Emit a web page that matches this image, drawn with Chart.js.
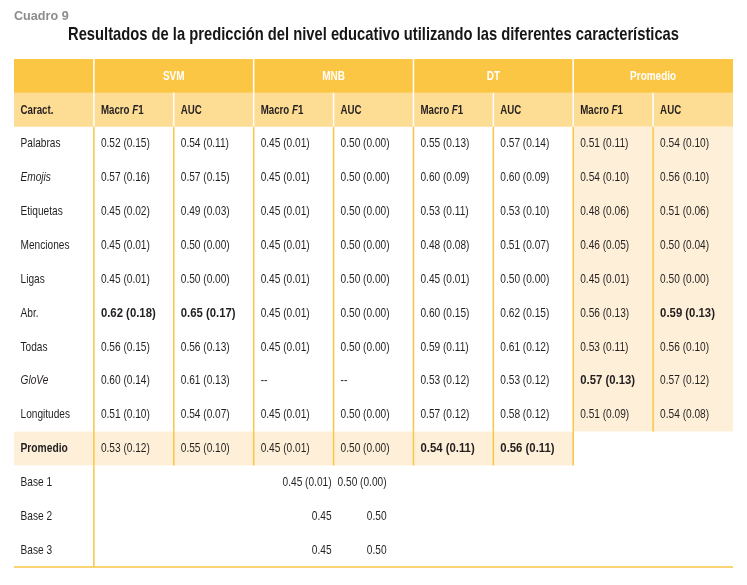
<!DOCTYPE html>
<html>
<head>
<meta charset="utf-8">
<script src="https://cdn.jsdelivr.net/npm/chart.js@4.4.1/dist/chart.umd.min.js"></script>
<style>
  html, body { margin: 0; padding: 0; background: #ffffff; }
  #wrap { width: 747px; height: 585px; }
</style>
</head>
<body>
<div id="wrap"><canvas id="c" width="747" height="585"></canvas></div>
<script>
// ---------------- data ----------------
const tableLabel = 'Cuadro 9';
const tableTitle = 'Resultados de la predicción del nivel educativo utilizando las diferentes características';
const firstHeader = 'Caract.';
const models = ['SVM', 'MNB', 'DT', 'Promedio'];
const metrics = ['Macro F1', 'AUC'];
const categories = ['Palabras', 'Emojis', 'Etiquetas', 'Menciones', 'Ligas', 'Abr.', 'Todas', 'GloVe', 'Longitudes', 'Promedio'];
const italicCategories = ['Emojis', 'GloVe'];
const baselines = ['Base 1', 'Base 2', 'Base 3'];

const svmF1     = [0.52, 0.57, 0.45, 0.45, 0.45, 0.62, 0.56, 0.60, 0.51, 0.53];
const svmF1Sd   = [0.15, 0.16, 0.02, 0.01, 0.01, 0.18, 0.15, 0.14, 0.10, 0.12];
const svmAuc    = [0.54, 0.57, 0.49, 0.50, 0.50, 0.65, 0.56, 0.61, 0.54, 0.55];
const svmAucSd  = [0.11, 0.15, 0.03, 0.00, 0.00, 0.17, 0.13, 0.13, 0.07, 0.10];
const mnbF1     = [0.45, 0.45, 0.45, 0.45, 0.45, 0.45, 0.45, null, 0.45, 0.45];
const mnbF1Sd   = [0.01, 0.01, 0.01, 0.01, 0.01, 0.01, 0.01, null, 0.01, 0.01];
const mnbAuc    = [0.50, 0.50, 0.50, 0.50, 0.50, 0.50, 0.50, null, 0.50, 0.50];
const mnbAucSd  = [0.00, 0.00, 0.00, 0.00, 0.00, 0.00, 0.00, null, 0.00, 0.00];
const dtF1      = [0.55, 0.60, 0.53, 0.48, 0.45, 0.60, 0.59, 0.53, 0.57, 0.54];
const dtF1Sd    = [0.13, 0.09, 0.11, 0.08, 0.01, 0.15, 0.11, 0.12, 0.12, 0.11];
const dtAuc     = [0.57, 0.60, 0.53, 0.51, 0.50, 0.62, 0.61, 0.53, 0.58, 0.56];
const dtAucSd   = [0.14, 0.09, 0.10, 0.07, 0.00, 0.15, 0.12, 0.12, 0.12, 0.11];
const promF1    = [0.51, 0.54, 0.48, 0.46, 0.45, 0.56, 0.53, 0.57, 0.51];
const promF1Sd  = [0.11, 0.10, 0.06, 0.05, 0.01, 0.13, 0.11, 0.13, 0.09];
const promAuc   = [0.54, 0.56, 0.51, 0.50, 0.50, 0.59, 0.56, 0.57, 0.54];
const promAucSd = [0.10, 0.10, 0.06, 0.04, 0.00, 0.13, 0.10, 0.12, 0.08];

const baseF1    = [0.45, 0.45, 0.45];
const baseF1Sd  = [0.01, null, null];
const baseAuc   = [0.50, 0.50, 0.50];
const baseAucSd = [0.00, null, null];

// bold cells: [row, column]
const boldCells = [[5, 1], [5, 2], [5, 8], [7, 7], [9, 5], [9, 6]];

// ---------------- build cells ----------------
const valueColumns = [
  [svmF1, svmF1Sd], [svmAuc, svmAucSd],
  [mnbF1, mnbF1Sd], [mnbAuc, mnbAucSd],
  [dtF1, dtF1Sd], [dtAuc, dtAucSd],
  [promF1, promF1Sd], [promAuc, promAucSd]
];
function fmt(v, sd) {
  if (v === null || v === undefined) return '--';
  return v.toFixed(2) + (sd === null || sd === undefined ? '' : ' (' + sd.toFixed(2) + ')');
}
const isBold = (r, c) => boldCells.some(b => b[0] === r && b[1] === c);

const cells = [];
models.forEach((m, g) => cells.push({ x: 1 + 2 * g + 1, y: -1.5, kind: 'group', text: m }));
cells.push({ x: 0, y: -0.5, kind: 'head', text: firstHeader });
models.forEach((m, g) => metrics.forEach((t, k) => cells.push({ x: 1 + 2 * g + k, y: -0.5, kind: 'head', text: t })));
categories.forEach((cat, r) => {
  cells.push({ x: 0, y: r + 0.5, kind: 'label', text: cat,
    italic: italicCategories.includes(cat), bold: cat === 'Promedio' });
  valueColumns.forEach((pair, c) => {
    const v = pair[0][r];
    if (v === undefined) return;
    cells.push({ x: c + 1, y: r + 0.5, kind: 'value', text: fmt(v, pair[1][r]), bold: isBold(r, c + 1) });
  });
});
baselines.forEach((b, i) => {
  const r = categories.length + i;
  cells.push({ x: 0, y: r + 0.5, kind: 'label', text: b });
  cells.push({ x: 4, y: r + 0.5, kind: 'baseF1', text: fmt(baseF1[i], baseF1Sd[i]) });
  cells.push({ x: 4, y: r + 0.5, kind: 'baseAuc', text: fmt(baseAuc[i], baseAucSd[i]) });
});

// ---------------- style ----------------
const C_HEAD1 = '#fcc645';
const C_HEAD2 = '#fddc94';
const C_CREAM = '#fef0d8';
const C_LINE  = '#f9c543';
const C_TEXT  = '#231f20';
const FAM = '"Liberation Sans", Arial, sans-serif';
const FS = '13.5px ';
const SX = 0.75;   // horizontal condensation of regular text
const NROWS = categories.length + baselines.length;

function txt(ctx, s, x, y, font, align, color, sx) {
  ctx.save();
  ctx.font = font; ctx.fillStyle = color; ctx.textAlign = align; ctx.textBaseline = 'middle';
  ctx.translate(x, y); ctx.scale(sx, 1);
  ctx.fillText(s, 0, 0);
  const w = ctx.measureText(s).width * sx;
  ctx.restore();
  return w;
}

const tablePlugin = {
  id: 'tableDraw',
  beforeDatasetsDraw(chart) {
    const { ctx, scales: { x, y } } = chart;
    const X = v => x.getPixelForValue(v), Y = v => y.getPixelForValue(v);
    const rect = (x0, x1, y0, y1, col) => { ctx.fillStyle = col; ctx.fillRect(X(x0), Y(y0), X(x1) - X(x0), Y(y1) - Y(y0)); };
    const vline = (xv, y0, y1, col, w) => { ctx.strokeStyle = col; ctx.lineWidth = w; ctx.beginPath(); ctx.moveTo(X(xv), Y(y0)); ctx.lineTo(X(xv), Y(y1)); ctx.stroke(); };
    ctx.save();
    // titles
    txt(ctx, tableLabel, X(0), 16, 'bold 13px ' + FAM, 'left', '#8c8c8c', 0.97);
    ctx.font = 'bold 18.5px ' + FAM;
    const tw = ctx.measureText(tableTitle).width;
    txt(ctx, tableTitle, (X(0) + X(9)) / 2, 35, 'bold 18.5px ' + FAM, 'center', '#161616', 611 / tw);
    // table fills
    rect(0, 9, -2, -1, C_HEAD1);
    rect(0, 9, -1, 0, C_HEAD2);
    rect(7, 9, 0, categories.length - 1, C_CREAM);
    rect(0, 7, categories.length - 1, categories.length, C_CREAM);
    [1, 3, 5, 7].forEach(v => vline(v, -2, -1, '#ffffff', 1.5));
    for (let v = 1; v <= 8; v++) vline(v, -1, 0, '#ffffff', 1.5);
    for (let v = 1; v <= 8; v++) vline(v, 0, categories.length - 1, C_LINE, 1.5);
    for (let v = 1; v <= 7; v++) vline(v, categories.length - 1, categories.length, C_LINE, 1.5);
    vline(1, categories.length, NROWS, C_LINE, 1.5);
    ctx.strokeStyle = C_LINE; ctx.lineWidth = 1.5;
    ctx.beginPath(); ctx.moveTo(X(0), Y(NROWS)); ctx.lineTo(X(9), Y(NROWS)); ctx.stroke();
    ctx.restore();
  },
  afterDatasetsDraw(chart) {
    const { ctx } = chart;
    const meta = chart.getDatasetMeta(0);
    const data = chart.data.datasets[0].data;
    meta.data.forEach((el, i) => {
      const d = data[i];
      const px = el.x, py = el.y;
      if (d.kind === 'group') {
        txt(ctx, d.text, px, py, 'bold ' + FS + FAM, 'center', '#ffffff', 0.74);
      } else if (d.kind === 'head') {
        let xx = px + (d.x === 0 ? 6.5 : 7);
        if (d.text.indexOf('F1') >= 0) {
          const parts = [[d.text.replace('F1', ''), 'bold '], ['F', 'italic bold '], ['1', 'bold ']];
          parts.forEach(p => { xx += txt(ctx, p[0], xx, py, p[1] + FS + FAM, 'left', C_TEXT, 0.72); });
        } else {
          txt(ctx, d.text, xx, py, 'bold ' + FS + FAM, 'left', C_TEXT, 0.72);
        }
      } else if (d.kind === 'label') {
        const f = (d.italic ? 'italic ' : '') + (d.bold ? 'bold ' : '') + FS + FAM;
        txt(ctx, d.text, px + 6.5, py, f, 'left', C_TEXT, d.bold ? 0.76 : SX);
      } else if (d.kind === 'value') {
        const f = (d.bold ? 'bold ' : '') + FS + FAM;
        txt(ctx, d.text, px + 7, py, f, 'left', C_TEXT, d.bold ? 0.84 : SX);
      } else if (d.kind === 'baseF1') {
        txt(ctx, d.text, px - 2, py, FS + FAM, 'right', C_TEXT, SX);
      } else if (d.kind === 'baseAuc') {
        txt(ctx, d.text, px + 53, py, FS + FAM, 'right', C_TEXT, SX);
      }
    });
  }
};

new Chart(document.getElementById('c'), {
  type: 'scatter',
  data: { datasets: [{ data: cells, pointRadius: 0, pointHoverRadius: 0, showLine: false }] },
  options: {
    responsive: false,
    animation: false,
    events: [],
    layout: { padding: { left: 14, right: 14, top: 59, bottom: 18 } },
    scales: {
      x: { type: 'linear', min: 0, max: 9, display: false },
      y: { type: 'linear', min: -2, max: NROWS, reverse: true, display: false }
    },
    plugins: {
      legend: { display: false },
      tooltip: { enabled: false },
      title: { display: false },
      subtitle: { display: false }
    }
  },
  plugins: [tablePlugin]
});
</script>
</body>
</html>
